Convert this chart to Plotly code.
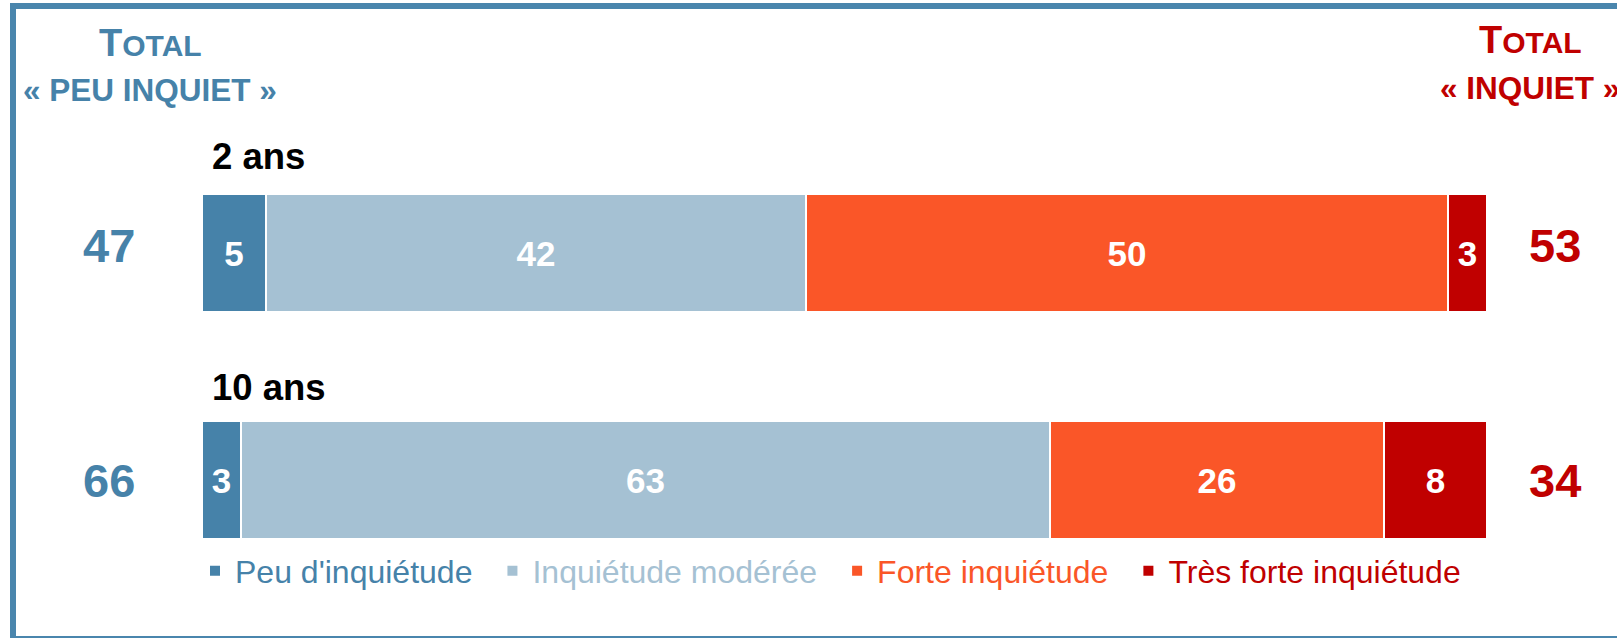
import plotly.graph_objects as go

# ---- data ----
rows = ["2 ans", "10 ans"]
series_names = ["Peu d'inquiétude", "Inquiétude modérée", "Forte inquiétude", "Très forte inquiétude"]
peu = [5, 3]
moderee = [42, 63]
forte = [50, 26]
tres_forte = [3, 8]
total_peu = [47, 66]
total_inquiet = [53, 34]

colors = ["#4682A9", "#A5C1D3", "#FA5628", "#C00000"]
series_values = [peu, moderee, forte, tres_forte]

W, H = 1617, 638
FONT = "Liberation Sans, Arial, sans-serif"

fig = go.Figure()
for name, vals, col in zip(series_names, series_values, colors):
    fig.add_trace(go.Bar(
        y=rows, x=vals, orientation="h",
        name=(f'<span style="color:{col}">{name}</span>'
              '<span style="font-size:27px">\u00a0\u00a0</span>'),
        marker=dict(color=col, line=dict(color="white", width=2)),
        width=0.52,
        text=[str(v) for v in vals], textposition="inside",
        insidetextanchor="middle", textangle=0, constraintext="none",
        textfont=dict(color="white", size=35, family=FONT, weight="bold"),
        hoverinfo="skip", cliponaxis=False,
    ))

# y mapping: "2 ans" centre at 253px, "10 ans" at 480px
span_px = 480 - 253
r1 = 480 / span_px
r0 = r1 - H / span_px

annotations = []
blue = "#4682A9"
red = "#C00000"
label_shift = [97, 93]
for i, row in enumerate(rows):
    ys = 8 if i == 0 else 0
    annotations.append(dict(x=109 / W, xref="paper", y=row, yref="y", yshift=ys,
                            text=f"<b>{total_peu[i]}</b>", showarrow=False,
                            font=dict(size=47, color=blue, family=FONT),
                            xanchor="center", yanchor="middle"))
    annotations.append(dict(x=1555 / W, xref="paper", y=row, yref="y", yshift=ys,
                            text=f"<b>{total_inquiet[i]}</b>", showarrow=False,
                            font=dict(size=47, color=red, family=FONT),
                            xanchor="center", yanchor="middle"))
    annotations.append(dict(x=210 / W, xref="paper", y=row, yref="y", yshift=label_shift[i],
                            text=f"<b>{row}</b>", showarrow=False,
                            font=dict(size=36.5, color="black", family=FONT),
                            xanchor="left", yanchor="middle"))

def total_title(x_px, y_px, col):
    return dict(x=x_px / W, xref="paper", y=1 - y_px / H, yref="paper",
                text='<b><span style="font-size:38px">T</span>OTAL</b>', showarrow=False,
                font=dict(size=30, color=col, family=FONT), xanchor="center", yanchor="middle")

annotations.append(total_title(150, 43, blue))
annotations.append(dict(x=150 / W, xref="paper", y=1 - 90 / H, yref="paper",
                        text="<b>« PEU INQUIET »</b>", showarrow=False,
                        font=dict(size=31.5, color=blue, family=FONT), xanchor="center", yanchor="middle"))
annotations.append(total_title(1530, 40, red))
annotations.append(dict(x=1530 / W, xref="paper", y=1 - 88 / H, yref="paper",
                        text="<b>« INQUIET »</b>", showarrow=False,
                        font=dict(size=31.5, color=red, family=FONT), xanchor="center", yanchor="middle"))

fig.update_layout(
    width=W, height=H,
    margin=dict(l=0, r=0, t=0, b=0),
    paper_bgcolor="white", plot_bgcolor="white",
    barmode="stack", bargap=0,
    xaxis=dict(range=[0, 100], domain=[202 / W, 1487 / W], visible=False, fixedrange=True),
    yaxis=dict(type="category", categoryorder="array", categoryarray=["10 ans", "2 ans"],
               range=[r0, r1], domain=[0, 1], visible=False, fixedrange=True),
    showlegend=True,
    legend=dict(orientation="h", x=195 / W, xanchor="left", y=1 - 571 / H, yanchor="middle",
                font=dict(size=32, family=FONT), traceorder="normal",
                bgcolor="rgba(0,0,0,0)", itemclick=False, itemdoubleclick=False),
    annotations=annotations,
    shapes=[dict(type="rect", xref="paper", yref="paper",
                 x0=13 / W, x1=1.02, y0=1 - 639 / H, y1=1 - 6 / H,
                 line=dict(color="#4A86AD", width=6), fillcolor="rgba(0,0,0,0)", layer="below")],
)

fig.write_html("out.html", config={"displayModeBar": False},
               post_script="document.body.style.margin='0';document.body.style.overflow='hidden';")
